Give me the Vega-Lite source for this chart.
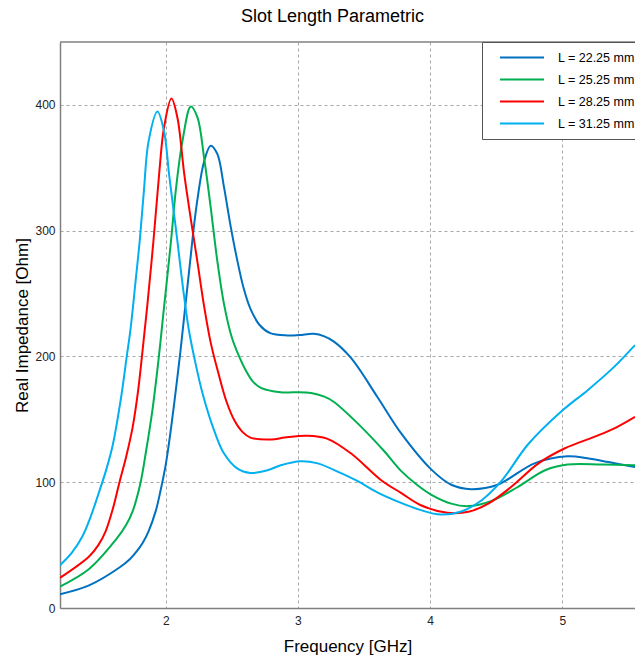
{
  "$schema": "https://vega.github.io/schema/vega-lite/v6.json",
  "width": 575,
  "height": 566,
  "autosize": "none",
  "padding": {"left": 60, "top": 42, "right": 0, "bottom": 53},
  "background": "white",
  "config": {
    "font": "Liberation Sans",
    "view": {"stroke": null},
    "axis": {
      "labelFont": "Liberation Sans",
      "labelFontSize": 12,
      "labelColor": "#222222",
      "titleFont": "Liberation Sans",
      "titleFontSize": 17,
      "titleFontWeight": "normal",
      "titleColor": "#000000",
      "domainColor": "#808080",
      "domainWidth": 1.5,
      "ticks": false,
      "grid": true,
      "gridColor": "#a8a8a8",
      "gridDash": [3, 3],
      "gridWidth": 1
    }
  },
  "title": {
    "text": "Slot Length Parametric",
    "font": "Liberation Sans",
    "fontSize": 18,
    "fontWeight": "normal",
    "color": "#000000",
    "anchor": "middle",
    "dx": -15,
    "offset": 15
  },
  "layer": [
    {
      "data": {"values": [{}]},
      "mark": {"type": "rule", "color": "#808080", "strokeWidth": 1.5},
      "encoding": {"y": {"datum": 450, "type": "quantitative", "scale": {"domain": [0, 450]}}}
    },
    {
      "data": {
        "values": [
          {"L": "L = 22.25 mm", "f": 1.2, "z": 11},
          {"L": "L = 22.25 mm", "f": 1.42, "z": 18},
          {"L": "L = 22.25 mm", "f": 1.647, "z": 32},
          {"L": "L = 22.25 mm", "f": 1.73, "z": 39},
          {"L": "L = 22.25 mm", "f": 1.78, "z": 45},
          {"L": "L = 22.25 mm", "f": 1.824, "z": 51.5},
          {"L": "L = 22.25 mm", "f": 1.87, "z": 61},
          {"L": "L = 22.25 mm", "f": 1.924, "z": 77},
          {"L": "L = 22.25 mm", "f": 1.96, "z": 93},
          {"L": "L = 22.25 mm", "f": 2.0, "z": 114},
          {"L": "L = 22.25 mm", "f": 2.04, "z": 143},
          {"L": "L = 22.25 mm", "f": 2.076, "z": 173},
          {"L": "L = 22.25 mm", "f": 2.11, "z": 203},
          {"L": "L = 22.25 mm", "f": 2.15, "z": 242},
          {"L": "L = 22.25 mm", "f": 2.19, "z": 281},
          {"L": "L = 22.25 mm", "f": 2.215, "z": 305},
          {"L": "L = 22.25 mm", "f": 2.24, "z": 325},
          {"L": "L = 22.25 mm", "f": 2.29, "z": 355},
          {"L": "L = 22.25 mm", "f": 2.34, "z": 367.5},
          {"L": "L = 22.25 mm", "f": 2.39, "z": 361},
          {"L": "L = 22.25 mm", "f": 2.44, "z": 335},
          {"L": "L = 22.25 mm", "f": 2.49, "z": 304},
          {"L": "L = 22.25 mm", "f": 2.54, "z": 277},
          {"L": "L = 22.25 mm", "f": 2.59, "z": 254},
          {"L": "L = 22.25 mm", "f": 2.64, "z": 238},
          {"L": "L = 22.25 mm", "f": 2.71, "z": 225},
          {"L": "L = 22.25 mm", "f": 2.79, "z": 218.5},
          {"L": "L = 22.25 mm", "f": 2.92, "z": 216.7},
          {"L": "L = 22.25 mm", "f": 3.01, "z": 217},
          {"L": "L = 22.25 mm", "f": 3.12, "z": 218},
          {"L": "L = 22.25 mm", "f": 3.2, "z": 216},
          {"L": "L = 22.25 mm", "f": 3.27, "z": 212},
          {"L": "L = 22.25 mm", "f": 3.4, "z": 199},
          {"L": "L = 22.25 mm", "f": 3.6, "z": 168},
          {"L": "L = 22.25 mm", "f": 3.78, "z": 139},
          {"L": "L = 22.25 mm", "f": 4.01, "z": 110},
          {"L": "L = 22.25 mm", "f": 4.16, "z": 98},
          {"L": "L = 22.25 mm", "f": 4.31, "z": 94.5},
          {"L": "L = 22.25 mm", "f": 4.51, "z": 98},
          {"L": "L = 22.25 mm", "f": 4.79, "z": 115},
          {"L": "L = 22.25 mm", "f": 5.04, "z": 120.6},
          {"L": "L = 22.25 mm", "f": 5.19, "z": 119},
          {"L": "L = 22.25 mm", "f": 5.35, "z": 116},
          {"L": "L = 22.25 mm", "f": 5.55, "z": 112},

          {"L": "L = 25.25 mm", "f": 1.2, "z": 17},
          {"L": "L = 25.25 mm", "f": 1.42, "z": 31},
          {"L": "L = 25.25 mm", "f": 1.62, "z": 54},
          {"L": "L = 25.25 mm", "f": 1.7, "z": 66},
          {"L": "L = 25.25 mm", "f": 1.75, "z": 77},
          {"L": "L = 25.25 mm", "f": 1.81, "z": 100},
          {"L": "L = 25.25 mm", "f": 1.85, "z": 124},
          {"L": "L = 25.25 mm", "f": 1.9, "z": 158},
          {"L": "L = 25.25 mm", "f": 1.945, "z": 197},
          {"L": "L = 25.25 mm", "f": 1.98, "z": 232},
          {"L": "L = 25.25 mm", "f": 2.04, "z": 292},
          {"L": "L = 25.25 mm", "f": 2.076, "z": 332},
          {"L": "L = 25.25 mm", "f": 2.126, "z": 371},
          {"L": "L = 25.25 mm", "f": 2.19, "z": 398.7},
          {"L": "L = 25.25 mm", "f": 2.24, "z": 390},
          {"L": "L = 25.25 mm", "f": 2.29, "z": 358},
          {"L": "L = 25.25 mm", "f": 2.34, "z": 318.5},
          {"L": "L = 25.25 mm", "f": 2.39, "z": 276},
          {"L": "L = 25.25 mm", "f": 2.44, "z": 242},
          {"L": "L = 25.25 mm", "f": 2.5, "z": 215},
          {"L": "L = 25.25 mm", "f": 2.555, "z": 200},
          {"L": "L = 25.25 mm", "f": 2.605, "z": 189},
          {"L": "L = 25.25 mm", "f": 2.66, "z": 180},
          {"L": "L = 25.25 mm", "f": 2.72, "z": 175},
          {"L": "L = 25.25 mm", "f": 2.87, "z": 171.5},
          {"L": "L = 25.25 mm", "f": 2.97, "z": 171.5},
          {"L": "L = 25.25 mm", "f": 3.1, "z": 171},
          {"L": "L = 25.25 mm", "f": 3.2, "z": 168},
          {"L": "L = 25.25 mm", "f": 3.27, "z": 164},
          {"L": "L = 25.25 mm", "f": 3.45, "z": 147},
          {"L": "L = 25.25 mm", "f": 3.65, "z": 125},
          {"L": "L = 25.25 mm", "f": 3.78, "z": 109},
          {"L": "L = 25.25 mm", "f": 3.9, "z": 98},
          {"L": "L = 25.25 mm", "f": 4.01, "z": 90},
          {"L": "L = 25.25 mm", "f": 4.16, "z": 83},
          {"L": "L = 25.25 mm", "f": 4.29, "z": 81},
          {"L": "L = 25.25 mm", "f": 4.46, "z": 85},
          {"L": "L = 25.25 mm", "f": 4.66, "z": 96},
          {"L": "L = 25.25 mm", "f": 4.87, "z": 109.5},
          {"L": "L = 25.25 mm", "f": 5.04, "z": 114},
          {"L": "L = 25.25 mm", "f": 5.3, "z": 114},
          {"L": "L = 25.25 mm", "f": 5.55, "z": 113.5},

          {"L": "L = 28.25 mm", "f": 1.2, "z": 24},
          {"L": "L = 28.25 mm", "f": 1.42, "z": 41},
          {"L": "L = 28.25 mm", "f": 1.49, "z": 50},
          {"L": "L = 28.25 mm", "f": 1.545, "z": 61},
          {"L": "L = 28.25 mm", "f": 1.6, "z": 79},
          {"L": "L = 28.25 mm", "f": 1.65, "z": 100},
          {"L": "L = 28.25 mm", "f": 1.7, "z": 120},
          {"L": "L = 28.25 mm", "f": 1.75, "z": 144},
          {"L": "L = 28.25 mm", "f": 1.79, "z": 172},
          {"L": "L = 28.25 mm", "f": 1.82, "z": 200},
          {"L": "L = 28.25 mm", "f": 1.86, "z": 240},
          {"L": "L = 28.25 mm", "f": 1.907, "z": 292},
          {"L": "L = 28.25 mm", "f": 1.95, "z": 345},
          {"L": "L = 28.25 mm", "f": 1.987, "z": 382},
          {"L": "L = 28.25 mm", "f": 2.043, "z": 405},
          {"L": "L = 28.25 mm", "f": 2.088, "z": 390},
          {"L": "L = 28.25 mm", "f": 2.14, "z": 345},
          {"L": "L = 28.25 mm", "f": 2.19, "z": 309},
          {"L": "L = 28.25 mm", "f": 2.24, "z": 275},
          {"L": "L = 28.25 mm", "f": 2.29, "z": 240},
          {"L": "L = 28.25 mm", "f": 2.34, "z": 211},
          {"L": "L = 28.25 mm", "f": 2.4, "z": 186},
          {"L": "L = 28.25 mm", "f": 2.46, "z": 164},
          {"L": "L = 28.25 mm", "f": 2.52, "z": 149},
          {"L": "L = 28.25 mm", "f": 2.58, "z": 140},
          {"L": "L = 28.25 mm", "f": 2.64, "z": 135.5},
          {"L": "L = 28.25 mm", "f": 2.8, "z": 134},
          {"L": "L = 28.25 mm", "f": 2.9, "z": 135.5},
          {"L": "L = 28.25 mm", "f": 3.07, "z": 137},
          {"L": "L = 28.25 mm", "f": 3.22, "z": 134.7},
          {"L": "L = 28.25 mm", "f": 3.4, "z": 123},
          {"L": "L = 28.25 mm", "f": 3.63, "z": 101.6},
          {"L": "L = 28.25 mm", "f": 3.78, "z": 91.5},
          {"L": "L = 28.25 mm", "f": 3.93, "z": 81.7},
          {"L": "L = 28.25 mm", "f": 4.13, "z": 75.7},
          {"L": "L = 28.25 mm", "f": 4.29, "z": 76.5},
          {"L": "L = 28.25 mm", "f": 4.44, "z": 83},
          {"L": "L = 28.25 mm", "f": 4.61, "z": 96},
          {"L": "L = 28.25 mm", "f": 4.82, "z": 115},
          {"L": "L = 28.25 mm", "f": 5.02, "z": 127},
          {"L": "L = 28.25 mm", "f": 5.24, "z": 136},
          {"L": "L = 28.25 mm", "f": 5.39, "z": 142.6},
          {"L": "L = 28.25 mm", "f": 5.55, "z": 152},

          {"L": "L = 31.25 mm", "f": 1.2, "z": 34},
          {"L": "L = 31.25 mm", "f": 1.29, "z": 44},
          {"L": "L = 31.25 mm", "f": 1.37, "z": 57},
          {"L": "L = 31.25 mm", "f": 1.43, "z": 72},
          {"L": "L = 31.25 mm", "f": 1.495, "z": 92},
          {"L": "L = 31.25 mm", "f": 1.55, "z": 110},
          {"L": "L = 31.25 mm", "f": 1.6, "z": 130},
          {"L": "L = 31.25 mm", "f": 1.66, "z": 166},
          {"L": "L = 31.25 mm", "f": 1.705, "z": 200},
          {"L": "L = 31.25 mm", "f": 1.735, "z": 223},
          {"L": "L = 31.25 mm", "f": 1.77, "z": 258},
          {"L": "L = 31.25 mm", "f": 1.805, "z": 294},
          {"L": "L = 31.25 mm", "f": 1.835, "z": 332},
          {"L": "L = 31.25 mm", "f": 1.87, "z": 371},
          {"L": "L = 31.25 mm", "f": 1.937, "z": 394.7},
          {"L": "L = 31.25 mm", "f": 1.987, "z": 379},
          {"L": "L = 31.25 mm", "f": 2.025, "z": 345},
          {"L": "L = 31.25 mm", "f": 2.063, "z": 313},
          {"L": "L = 31.25 mm", "f": 2.09, "z": 290},
          {"L": "L = 31.25 mm", "f": 2.13, "z": 255},
          {"L": "L = 31.25 mm", "f": 2.175, "z": 221},
          {"L": "L = 31.25 mm", "f": 2.215, "z": 199.5},
          {"L": "L = 31.25 mm", "f": 2.28, "z": 170},
          {"L": "L = 31.25 mm", "f": 2.37, "z": 140},
          {"L": "L = 31.25 mm", "f": 2.44, "z": 123},
          {"L": "L = 31.25 mm", "f": 2.54, "z": 111},
          {"L": "L = 31.25 mm", "f": 2.64, "z": 107.4},
          {"L": "L = 31.25 mm", "f": 2.77, "z": 109.5},
          {"L": "L = 31.25 mm", "f": 2.87, "z": 113.5},
          {"L": "L = 31.25 mm", "f": 3.02, "z": 116.7},
          {"L": "L = 31.25 mm", "f": 3.15, "z": 115},
          {"L": "L = 31.25 mm", "f": 3.33, "z": 107},
          {"L": "L = 31.25 mm", "f": 3.45, "z": 101},
          {"L": "L = 31.25 mm", "f": 3.6, "z": 92},
          {"L": "L = 31.25 mm", "f": 3.78, "z": 83.6},
          {"L": "L = 31.25 mm", "f": 3.93, "z": 77.8},
          {"L": "L = 31.25 mm", "f": 4.08, "z": 74.3},
          {"L": "L = 31.25 mm", "f": 4.23, "z": 76.5},
          {"L": "L = 31.25 mm", "f": 4.39, "z": 85.7},
          {"L": "L = 31.25 mm", "f": 4.54, "z": 101},
          {"L": "L = 31.25 mm", "f": 4.74, "z": 130},
          {"L": "L = 31.25 mm", "f": 5.0, "z": 157},
          {"L": "L = 31.25 mm", "f": 5.19, "z": 173},
          {"L": "L = 31.25 mm", "f": 5.39, "z": 191.5},
          {"L": "L = 31.25 mm", "f": 5.55, "z": 209}
        ]
      },
      "mark": {"type": "line", "interpolate": "catmull-rom", "strokeWidth": 2, "clip": true},
      "encoding": {
        "x": {
          "field": "f",
          "type": "quantitative",
          "scale": {"domain": [1.2, 5.55], "nice": false, "zero": false},
          "axis": {"values": [2, 3, 4, 5], "title": "Frequency [GHz]", "labelPadding": 7, "titlePadding": 12}
        },
        "y": {
          "field": "z",
          "type": "quantitative",
          "scale": {"domain": [0, 450], "nice": false},
          "axis": {"values": [0, 100, 200, 300, 400], "title": "Real Impedance [Ohm]", "labelPadding": 5, "titlePadding": 3}
        },
        "color": {
          "field": "L",
          "type": "nominal",
          "scale": {
            "domain": ["L = 22.25 mm", "L = 25.25 mm", "L = 28.25 mm", "L = 31.25 mm"],
            "range": ["#0070C0", "#00B050", "#FF0000", "#00B0F0"]
          },
          "legend": {
            "title": null,
            "orient": "none",
            "legendX": 422,
            "legendY": 0,
            "symbolType": "M-1,0H7",
            "symbolSize": 121,
            "symbolStrokeWidth": 2,
            "symbolOffset": 8,
            "labelOffset": 46,
            "padding": 9,
            "rowPadding": 9,
            "strokeColor": "#555555",
            "fillColor": "white",
            "labelFont": "Liberation Sans",
            "labelFontSize": 12.5,
            "labelColor": "#000000"
          }
        }
      }
    }
  ]
}
